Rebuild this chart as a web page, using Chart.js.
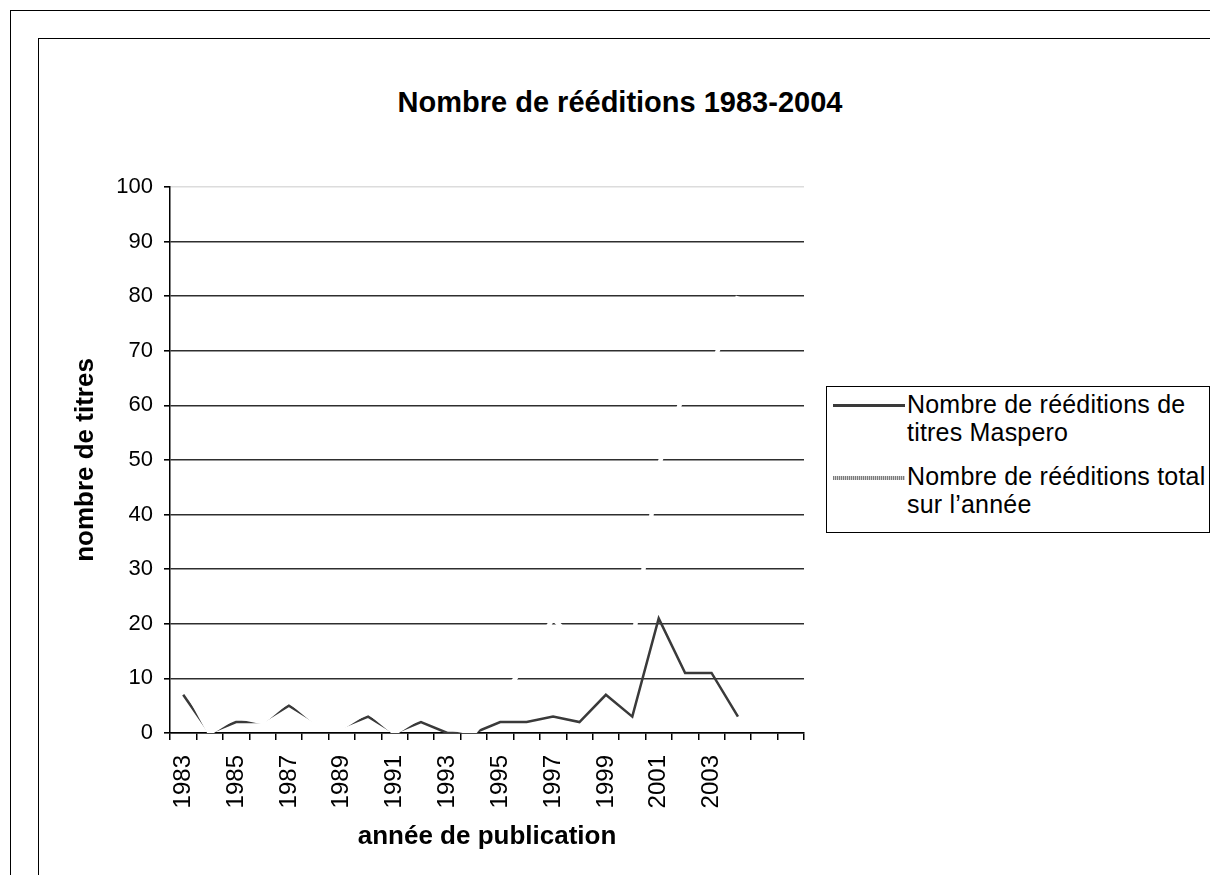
<!DOCTYPE html>
<html>
<head>
<meta charset="utf-8">
<script src="https://cdn.jsdelivr.net/npm/chart.js@4.4.1/dist/chart.umd.min.js"></script>
<style>
  body { margin: 0; width: 1210px; height: 875px; overflow: hidden; background: #fff; position: relative; font-family: "Liberation Sans", Arial, sans-serif; }
  .frame { position: absolute; border-left: 1.5px solid #000; border-top: 1.5px solid #000; }
  #title { position: absolute; left: 0; width: 1240px; top: 85px; text-align: center; font-weight: bold; font-size: 29px; line-height: 34px; color: #000; }
  #chart { position: absolute; left: 0; top: 0; }
  #legend { position: absolute; left: 826px; top: 386px; width: 382px; height: 145px; border: 1.5px solid #000; background: #fff; }
  .entry { position: absolute; left: 80px; font-size: 25px; line-height: 28px; letter-spacing: 0.2px; color: #000; white-space: nowrap; }
  .sample { position: absolute; left: 6px; width: 72px; }
</style>
</head>
<body>
<div class="frame" style="left:10px; top:10px; width:1300px; height:1000px;"></div>
<div class="frame" style="left:38px; top:38px; width:1300px; height:1000px;"></div>
<div id="title">Nombre de rééditions 1983-2004</div>
<canvas id="chart" width="1210" height="875"></canvas>
<div id="legend"></div>
<script>
  // années (deux emplacements vides en fin d'axe, comme dans le graphique Excel)
  const years = ["1983", "1984", "1985", "1986", "1987", "1988", "1989", "1990", "1991", "1992", "1993",
    "1994", "1995", "1996", "1997", "1998", "1999", "2000", "2001", "2002", "2003", "2004"];
  const emptySlots = ["", ""];

  const maspero = [7, 0, 2, 2, 5, 2, 1, 3, 0, 2, 0, 0, 2, 2, 3, 2, 7, 3, 21, 11, 11, 3];
  const total = [9, 0, 3, 2, 6, 2, 1, 4, 0, 3, 1, 0, 6, 13, 21, 16, 17, 16, 49, 63, 67, 80];

  const yTicks = [0, 10, 20, 30, 40, 50, 60, 70, 80, 90, 100];

  const seriesNames = ["Nombre de rééditions de titres Maspero", "Nombre de rééditions total sur l’année"];
  const legendLines = [["Nombre de rééditions de", "titres Maspero"], ["Nombre de rééditions total", "sur l’année"]];

  const labels = years.concat(emptySlots);
  const font = "'Liberation Sans', Arial, sans-serif";

  new Chart(document.getElementById("chart").getContext("2d"), {
    type: "line",
    data: {
      labels: labels,
      datasets: [
        {
          label: seriesNames[0],
          data: maspero,
          borderColor: "#3a3a3a",
          borderWidth: 2.5,
          pointRadius: 0,
          tension: 0,
          order: 1,
        },
        {
          label: seriesNames[1],
          data: total,
          borderColor: "#ffffff",
          borderWidth: 4.5,
          pointRadius: 0,
          tension: 0,
          order: 0,
        },
      ],
    },
    options: {
      responsive: false,
      animation: false,
      events: [],
      layout: { padding: { top: 187, right: 406, bottom: 0, left: 0 } },
      plugins: {
        legend: { display: false },
        title: { display: false },
        tooltip: { enabled: false },
      },
      scales: {
        x: {
          offset: true,
          afterFit: (scale) => { scale.height = 142; },
          grid: { drawOnChartArea: false, drawTicks: true, tickLength: 7, offset: true, color: "#000", lineWidth: 1.5 },
          border: { color: "#000", width: 1.5 },
          ticks: {
            autoSkip: false,
            maxRotation: 90,
            minRotation: 90,
            padding: 15,
            color: "#000",
            font: { family: font, size: 24 },
            callback: (val, i) => (i % 2 === 0 ? labels[i] : ""),
          },
          title: {
            display: true,
            text: "année de publication",
            color: "#000",
            font: { family: font, size: 26, weight: "bold" },
            padding: { top: 0, bottom: 23 },
          },
        },
        y: {
          min: 0,
          max: 100,
          afterFit: (scale) => { scale.width = 170; },
          afterBuildTicks: (scale) => { scale.ticks = yTicks.map((v) => ({ value: v })); },
          grid: {
            color: (c) => (c.tick && c.tick.value === 100 ? "#dcdcdc" : "#2e2e2e"),
            tickColor: "#000",
            lineWidth: 1.6,
            tickLength: 6,
          },
          border: { color: "#000", width: 1.5 },
          ticks: { padding: 11, color: "#000", font: { family: font, size: 22 } },
          title: {
            display: true,
            text: "nombre de titres",
            color: "#000",
            font: { family: font, size: 26, weight: "bold" },
            padding: { top: 70, bottom: 0 },
          },
        },
      },
    },
  });

  // légende HTML (libellés sur deux lignes)
  const legend = document.getElementById("legend");
  const samples = [
    "height:2.5px; background:#3a3a3a;",
    "height:4px; background:repeating-linear-gradient(90deg,#7a7a7a 0 1px,#cfcfcf 1px 2px);",
  ];
  const tops = [3, 75];
  legendLines.forEach((lines, i) => {
    const e = document.createElement("div");
    e.className = "entry";
    e.style.top = tops[i] + "px";
    e.innerHTML = lines.join("<br>");
    legend.appendChild(e);
    const s = document.createElement("div");
    s.className = "sample";
    s.style.cssText += samples[i] + "top:" + (tops[i] + 14) + "px;";
    legend.appendChild(s);
  });
</script>
</body>
</html>
